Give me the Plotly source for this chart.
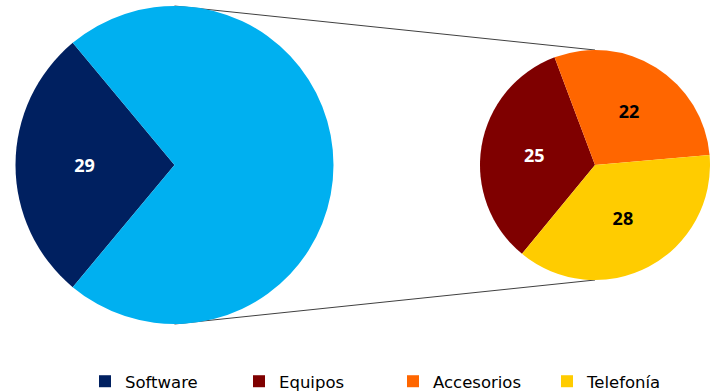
import plotly.graph_objects as go

# ---- data ----
main_label = "Software"
main_value = 29
detail_labels = ["Equipos", "Accesorios", "Telefonía"]
detail_values = [25, 22, 28]
other_label = "Otros"

# ---- colours ----
c_software = "#002060"
c_other = "#00B0F0"
detail_colors = ["#7F0000", "#FF6600", "#FFCC00"]
detail_text_colors = ["white", "black", "black"]

W, H = 710, 399

# pie geometry in pixels (center x, center y from top, radius)
big_cx, big_cy, big_r = 174.5, 165, 159
sm_cx, sm_cy, sm_r = 595, 165, 115


def dom(cx, cy, r):
    return dict(x=[max(0, (cx - r) / W), min(1, (cx + r) / W)],
                y=[(H - (cy + r)) / H, (H - (cy - r)) / H])


other_value = sum(detail_values)
total = main_value + other_value
big_rot = 270 - main_value / total * 360 / 2

fig = go.Figure()

fig.add_trace(go.Pie(
    labels=[main_label, other_label],
    values=[main_value, other_value],
    sort=False, direction="clockwise", rotation=big_rot,
    marker=dict(colors=[c_software, c_other], line=dict(width=0)),
    texttemplate=["%{value}", ""],
    textposition="inside", insidetextorientation="horizontal",
    textfont=dict(family="Open Sans", size=18, color=["white", "white"], weight="bold"),
    domain=dom(big_cx, big_cy, big_r),
    showlegend=False, hoverinfo="label+value",
))

fig.add_trace(go.Pie(
    labels=[main_label] + detail_labels,
    values=[0] + detail_values,
    sort=False, direction="clockwise", rotation=-140.6,
    marker=dict(colors=[c_software] + detail_colors, line=dict(width=0)),
    texttemplate=[""] + ["%{value}"] * len(detail_values),
    textposition="inside", insidetextorientation="horizontal",
    textfont=dict(family="Open Sans", size=18, color=["white"] + detail_text_colors, weight="bold"),
    domain=dom(sm_cx, sm_cy, sm_r),
    showlegend=True, hoverinfo="label+value",
))

# connector lines (below pies)
for sgn in (-1, 1):
    fig.add_shape(type="line", xref="paper", yref="paper", layer="below",
                  x0=big_cx / W, y0=(H - (big_cy + sgn * big_r)) / H,
                  x1=sm_cx / W, y1=(H - (sm_cy + sgn * sm_r)) / H,
                  line=dict(color="#404040", width=1))

fig.update_layout(
    width=W, height=H, autosize=False,
    margin=dict(l=0, r=0, t=0, b=0),
    paper_bgcolor="white", plot_bgcolor="white",
    legend=dict(orientation="h", x=85 / W, xanchor="left", y=0, yanchor="bottom",
                entrywidth=109, entrywidthmode="pixels",
                font=dict(family="DejaVu Sans", size=16.5, color="#000000"),
                traceorder="normal", bgcolor="rgba(0,0,0,0)"),
)

fig.write_html("out.html")
